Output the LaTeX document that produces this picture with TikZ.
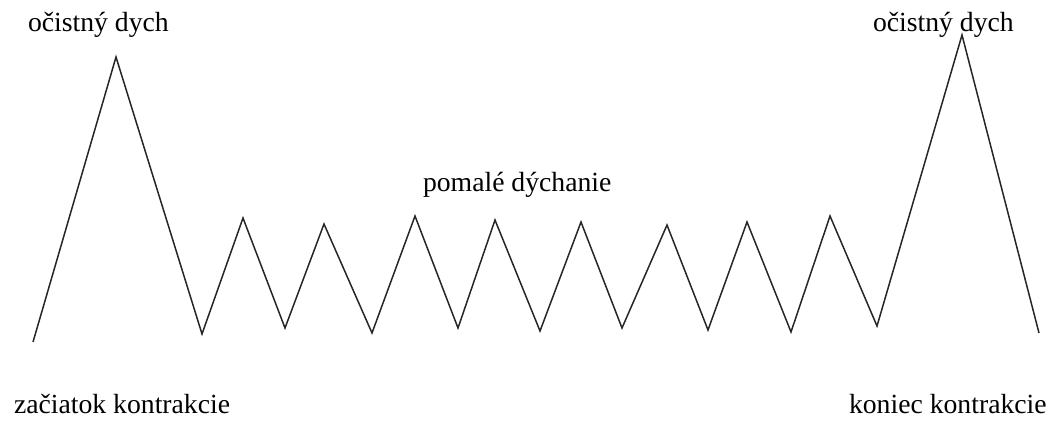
\documentclass[tikz,border=0pt]{standalone}
\usepackage{fontspec}
\setmainfont{Liberation Serif}
\begin{document}
\begin{tikzpicture}[x=1pt,y=-1pt,
  lbl/.style={anchor=base west,inner sep=0pt,outer sep=0pt,font=\fontsize{27.7}{32}\selectfont},
  wave/.style={line width=1.5pt,draw=black!85,line join=miter}]
\useasboundingbox (0,0) rectangle (1056,421);
\foreach \n/\x/\y in {p0/33/342,p1/116/57,p2/202/334,p3/243/218,p4/285/328,p5/324/224,p6/372/333,p7/415/216,p8/458/328,p9/495/220,p10/540/331,p11/581/222,p12/622/328,p13/667/225,p14/708/330,p15/747/222,p16/791/332,p17/830/216,p18/877/326,p19/962/35,p20/1039/333}
  \coordinate (\n) at (\x,\y);
\draw[wave] (p0)--(p1)--(p2)--(p3)--(p4)--(p5)--(p6)--(p7)--(p8)--(p9)--(p10)--(p11)--(p12)--(p13)--(p14)--(p15)--(p16)--(p17)--(p18)--(p19)--(p20);
\node[lbl] (t1) at (28,31) {očistný dych};
\node[lbl] (t2) at (873,31) {očistný dych};
\node[lbl] (t3) at (423,191.5) {pomalé dýchanie};
\node[lbl] (t4) at (14,413) {začiatok kontrakcie};
\node[lbl] (t5) at (849,413) {koniec kontrakcie};
\end{tikzpicture}
\end{document}
